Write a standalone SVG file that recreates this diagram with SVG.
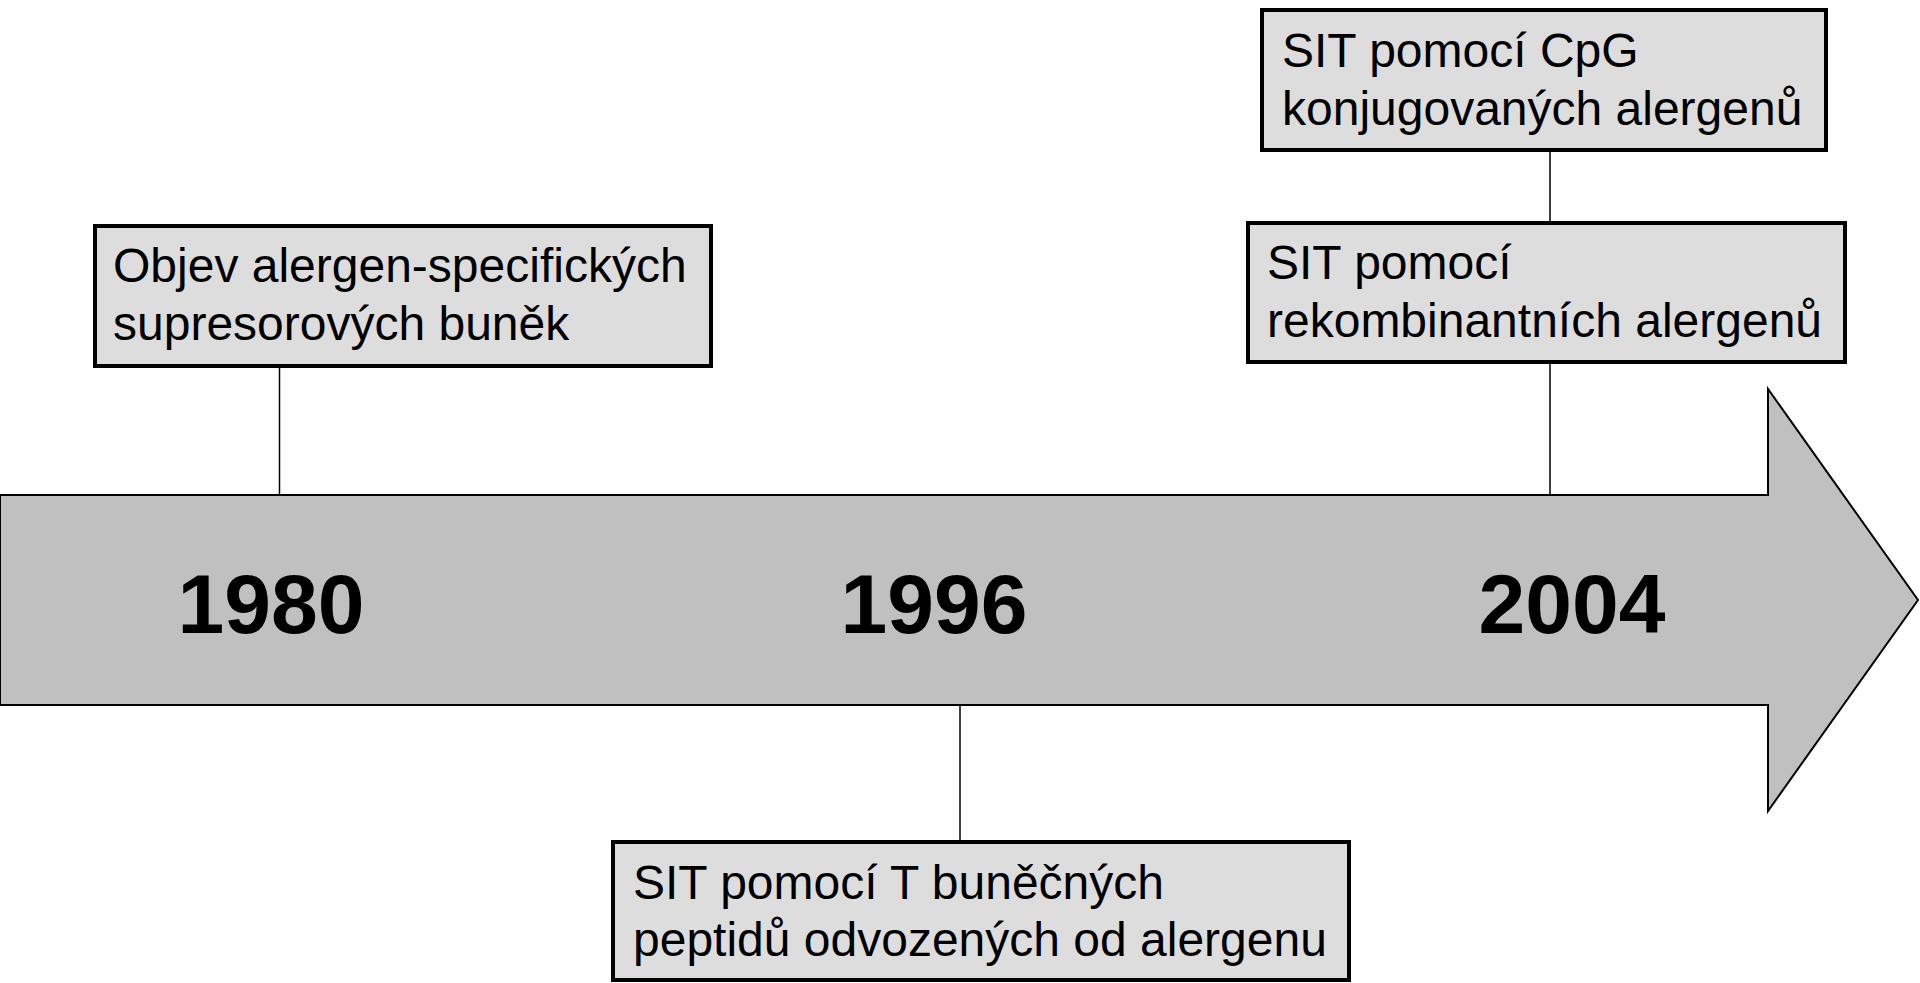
<svg xmlns="http://www.w3.org/2000/svg" width="1920" height="983" viewBox="0 0 1920 983">
<style>
.box{fill:#DDDDDD;stroke:#000;stroke-width:4}
.lbl{font-family:"Liberation Sans",Arial,sans-serif;font-size:48px;fill:#000}
.year{font-family:"Liberation Sans",Arial,sans-serif;font-size:84px;font-weight:bold;fill:#000;text-anchor:middle}
.conn{stroke:#000;stroke-width:1.5;fill:none}
</style>
<rect width="1920" height="983" fill="#fff"/>
<g id="timeline">
<path d="M0,495 H1768 V389 L1918,600 L1768,811 V705 H0 Z" fill="#C0C0C0" stroke="#000" stroke-width="2"/>
<text class="year" x="271" y="633">1980</text>
<text class="year" x="934" y="633">1996</text>
<text class="year" x="1572" y="633">2004</text>
</g>
<g id="connectors">
<line class="conn" x1="279.5" y1="367" x2="279.5" y2="495"/>
<line class="conn" x1="960" y1="705" x2="960" y2="841"/>
<line class="conn" x1="1550" y1="152" x2="1550" y2="222"/>
<line class="conn" x1="1550" y1="364" x2="1550" y2="495"/>
</g>
<g id="node-1980">
<rect class="box" x="95" y="226" width="616" height="140"/>
<text class="lbl" x="113" y="282">Objev alergen-specifických</text>
<text class="lbl" x="113" y="340">supresorových buněk</text>
</g>
<g id="node-1996">
<rect class="box" x="613" y="842" width="736" height="138"/>
<text class="lbl" x="633" y="899">SIT pomocí T buněčných</text>
<text class="lbl" x="633" y="956">peptidů odvozených od alergenu</text>
</g>
<g id="node-2004a">
<rect class="box" x="1248" y="223" width="597" height="139"/>
<text class="lbl" x="1267" y="279">SIT pomocí</text>
<text class="lbl" x="1267" y="337">rekombinantních alergenů</text>
</g>
<g id="node-2004b">
<rect class="box" x="1262" y="10" width="564" height="140"/>
<text class="lbl" x="1282" y="67">SIT pomocí CpG</text>
<text class="lbl" x="1282" y="125">konjugovaných alergenů</text>
</g>
</svg>
